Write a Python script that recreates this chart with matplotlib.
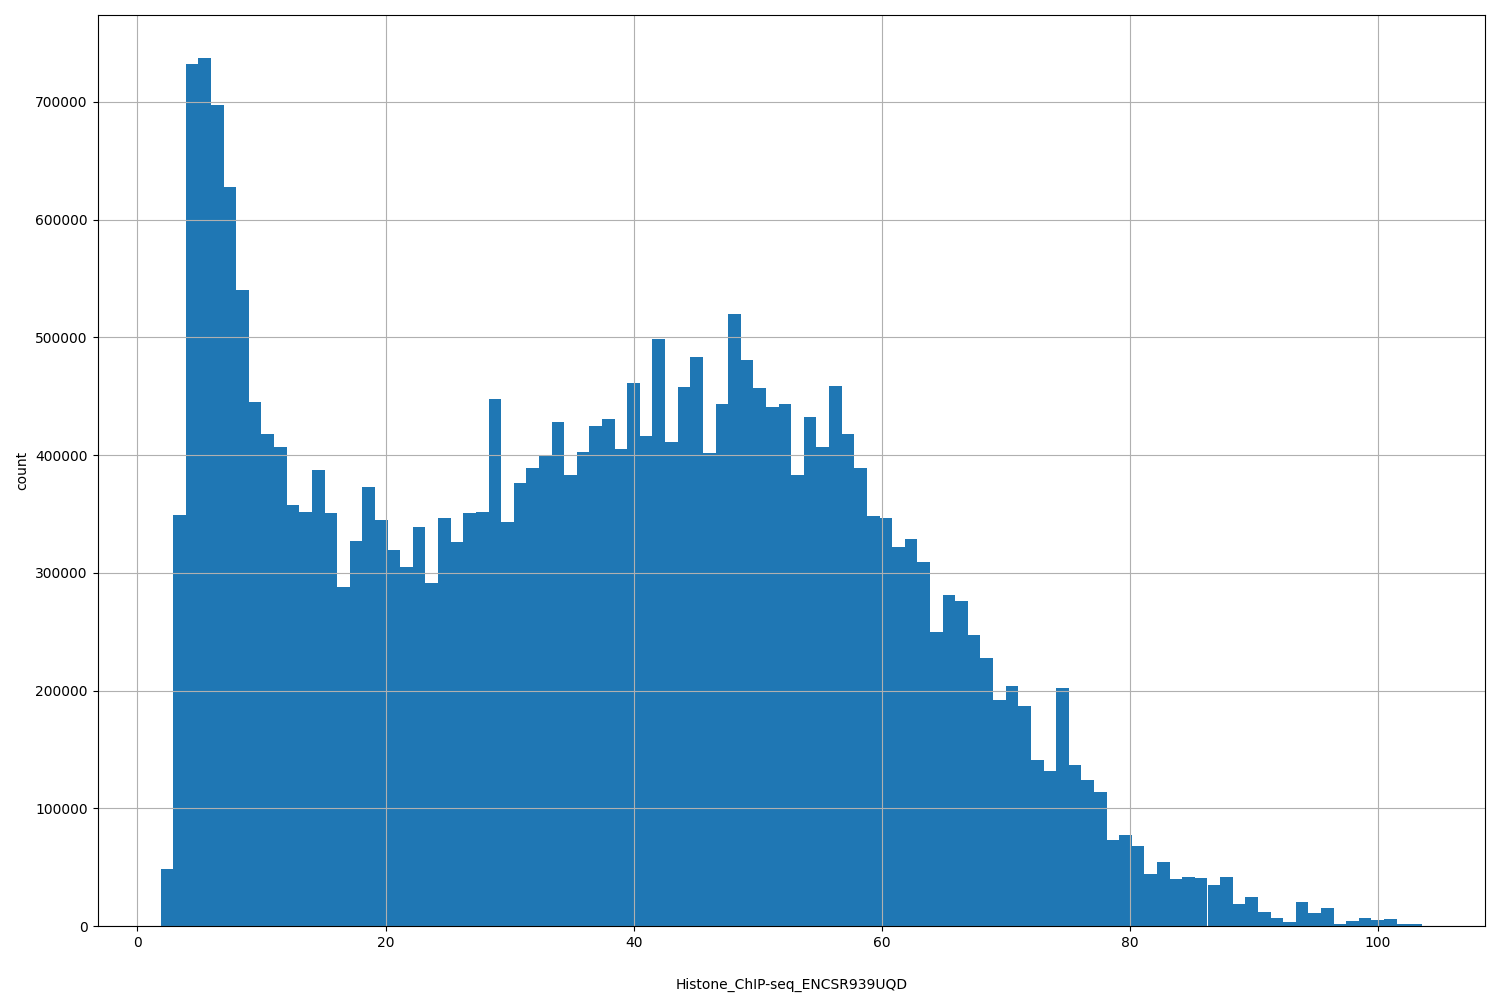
import matplotlib
matplotlib.use("Agg")
import matplotlib.pyplot as plt
import numpy as np

bin_start = 1.86
bin_end = 103.55
counts = [48000,349000,732000,737000,697000,628000,540000,445000,418000,407000,
358000,352000,387000,351000,288000,327000,373000,345000,319000,305000,
339000,291000,347000,326000,351000,352000,448000,343000,376000,389000,
399000,428000,383000,403000,425000,431000,405000,461000,416000,499000,
411000,458000,483000,402000,443000,520000,481000,457000,441000,443000,
383000,432000,407000,459000,418000,389000,348000,347000,322000,329000,
309000,250000,281000,276000,247000,228000,192000,204000,187000,141000,
132000,202000,137000,124000,114000,73000,77000,68000,44000,54000,
40000,42000,41000,35000,42000,19000,25000,12000,7000,3000,
20000,11000,15000,2000,4000,7000,5000,6000,2000,2000]

edges = np.linspace(bin_start, bin_end, len(counts) + 1)
centers = (edges[:-1] + edges[1:]) / 2

fig = plt.figure(figsize=(15, 10), dpi=100)
ax = fig.add_axes([0.065, 0.074, 0.925, 0.911])
ax.hist(centers, bins=edges, weights=counts, color="#1f77b4")
ax.grid(True)
ax.set_xlabel("Histone_ChIP-seq_ENCSR939UQD", labelpad=20)
ax.set_ylabel("count")
fig.savefig("out.png")
